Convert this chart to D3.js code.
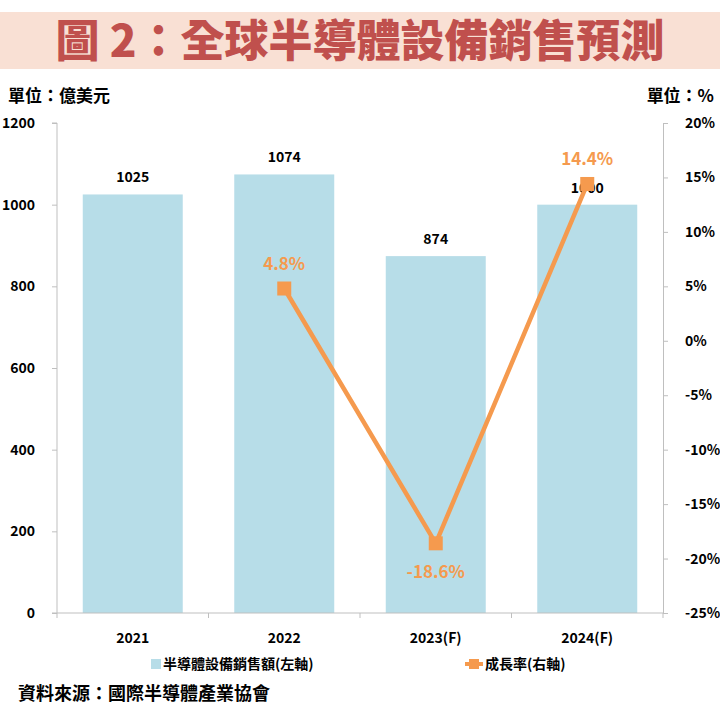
<!DOCTYPE html>
<html><head><meta charset="utf-8">
<script src="https://cdn.jsdelivr.net/npm/d3@7"></script>
<style>body{margin:0;background:#fff}text{font-family:"Noto Sans CJK TC","Noto Sans",sans-serif;font-weight:700}</style>
</head><body><svg id="c" width="720" height="720"></svg>
<script>
const categories=["2021","2022","2023(F)","2024(F)"];
const sales=[1025,1074,874,1000];
const growth=[null,4.8,-18.6,14.4];
const leftTicks=[0,200,400,600,800,1000,1200];
const rightTicks=[-25,-20,-15,-10,-5,0,5,10,15,20];

const svg=d3.select("#c");
const L=57,R=663,T=123,B=613;
svg.append("rect").attr("x",0).attr("y",12).attr("width",720).attr("height",57).attr("fill","#f9e0d4");
svg.append("text").attr("x",360).attr("y",57).attr("text-anchor","middle").attr("font-size",44).style("font-weight",900).attr("fill","#c0504d").text("圖 2：全球半導體設備銷售預測");
svg.append("text").attr("x",8).attr("y",102).attr("font-size",17).text("單位：億美元");
svg.append("text").attr("x",714).attr("y",102).attr("text-anchor","end").attr("font-size",17).text("單位：%");

const x=d3.scaleBand().domain(categories).range([L,R]).paddingInner(0.34).paddingOuter(0.17);
const xb=d3.scaleBand().domain(categories).range([L,R]);
const y=d3.scaleLinear().domain([0,1200]).range([B,T]);
const y2=d3.scaleLinear().domain([-25,20]).range([B,T]);

const ax=svg.append("g").attr("transform",`translate(${L},0)`).call(d3.axisLeft(y).tickValues(leftTicks).tickSize(5).tickFormat(d=>d));
const ay=svg.append("g").attr("transform",`translate(${R},0)`).call(d3.axisRight(y2).tickValues(rightTicks).tickSize(5).tickFormat(d=>d+"%"));
[ax,ay].forEach(g=>{g.selectAll("line,path").attr("stroke","#bfbfbf");g.selectAll("text").attr("font-size",14).attr("fill","#000").style("font-family","'Noto Sans CJK TC',sans-serif").style("font-weight",700);});
ax.selectAll("text").attr("x",-22);
ay.selectAll("text").attr("x",22).attr("text-anchor","start");
ax.select(".domain").attr("d",`M-5,${T}H0V${B}H-5`);

svg.selectAll(".bar").data(sales).enter().append("rect")
 .attr("x",(d,i)=>x(categories[i])).attr("width",x.bandwidth())
 .attr("y",d=>y(d)).attr("height",d=>B-y(d)).attr("fill","#b7dde8");
svg.append("line").attr("x1",L).attr("x2",R).attr("y1",B).attr("y2",B).attr("stroke","#bfbfbf");
categories.concat(["end"]).forEach((c,i)=>{const xx=L+i*xb.bandwidth();svg.append("line").attr("x1",xx).attr("x2",xx).attr("y1",B).attr("y2",B+5).attr("stroke","#bfbfbf");});
svg.selectAll(".xl").data(categories).enter().append("text").attr("x",d=>x(d)+x.bandwidth()/2).attr("y",643).attr("text-anchor","middle").attr("font-size",14).text(d=>d);
svg.selectAll(".bl").data(sales).enter().append("text").attr("x",(d,i)=>x(categories[i])+x.bandwidth()/2).attr("y",d=>y(d)-12).attr("text-anchor","middle").attr("font-size",14).text(d=>d);

const pts=growth.map((g,i)=>({g,c:categories[i]})).filter(d=>d.g!==null);
const cx=d=>x(d.c)+x.bandwidth()/2;
svg.append("path").datum(pts).attr("fill","none").attr("stroke","#f59a4e").attr("stroke-width",4.5)
 .attr("d",d3.line().x(cx).y(d=>y2(d.g)));
svg.selectAll(".pt").data(pts).enter().append("rect").attr("x",d=>cx(d)-7).attr("y",d=>y2(d.g)-7).attr("width",14).attr("height",14).attr("fill","#f59a4e");
svg.selectAll(".pl").data(pts).enter().append("text").attr("x",cx).attr("y",d=>d.g<0?y2(d.g)+35:y2(d.g)-19).attr("text-anchor","middle").attr("font-size",17).attr("fill","#f59a4e").text(d=>d.g.toFixed(1)+"%");

svg.append("rect").attr("x",151).attr("y",659).attr("width",10).attr("height",10).attr("fill","#b7dde8");
svg.append("text").attr("x",163).attr("y",669).attr("font-size",14).text("半導體設備銷售額(左軸)");
svg.append("line").attr("x1",465).attr("x2",483).attr("y1",664).attr("y2",664).attr("stroke","#f59a4e").attr("stroke-width",4);
svg.append("rect").attr("x",469).attr("y",659).attr("width",10).attr("height",10).attr("fill","#f59a4e");
svg.append("text").attr("x",485).attr("y",669).attr("font-size",14).text("成長率(右軸)");
svg.append("text").attr("x",18).attr("y",700).attr("font-size",18).text("資料來源：國際半導體產業協會");
</script></body></html>
